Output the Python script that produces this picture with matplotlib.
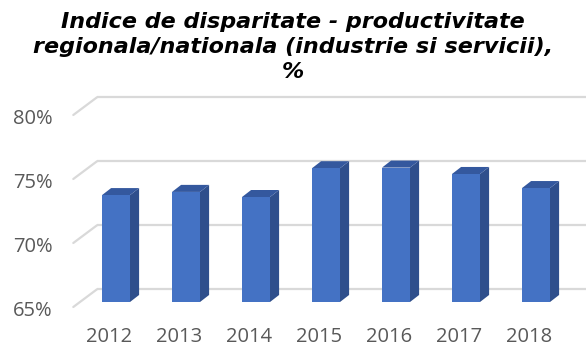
#Indice de disparitate - productivitate regionala/nationala, bar chart with 3D look

import matplotlib
matplotlib.use("Agg")
import matplotlib.pyplot as plt
from matplotlib.patches import Polygon

#data
years = ["2012", "2013", "2014", "2015", "2016", "2017", "2018"]
values = [73.35, 73.6, 73.2, 75.45, 75.5, 75.0, 73.9]
ticks = [65, 70, 75, 80]
tick_labels = ["65%", "70%", "75%", "80%"]

#colours
front_col = "#4472C4"
side_col = "#2F4F8C"
top_col = "#34589E"
grid_col = "#D9D9D9"
text_col = "#595959"

#depth offsets (x in categories, y in percent)
bar_dx, bar_dy = 0.13, 0.55
wall_x, wall_dy = -0.27, 1.0
floor_x, floor_dy = -0.61, -0.39
half_w = 0.2
base = 65

fig = plt.figure(figsize=(5.86, 3.47), dpi=100)
ax = fig.add_axes([0, 0, 1, 1])
ax.set_xlim(-116/70, 470/70)
ax.set_ylim(65 - 45/12.8, 65 + 302/12.8)
ax.axis("off")

#back wall gridlines + diagonal on the side wall
for t, lab in zip(ticks, tick_labels):
    ax.plot([wall_x, 10], [t + wall_dy, t + wall_dy], color=grid_col, lw=1.6,
            solid_capstyle="butt", zorder=1)
    ax.plot([floor_x, wall_x], [t + floor_dy, t + wall_dy], color=grid_col, lw=1.6,
            solid_capstyle="round", zorder=1)
    ax.text(-0.91, t - 0.72, lab, ha="right", va="center", fontsize=14.5,
            color=text_col, family="Open Sans")

#bars
for i, v in enumerate(values):
    x0, x1 = i - half_w, i + half_w
    front = [(x0, base), (x1, base), (x1, v), (x0, v)]
    side = [(x1, base), (x1 + bar_dx, base + bar_dy), (x1 + bar_dx, v + bar_dy), (x1, v)]
    top = [(x0, v), (x1, v), (x1 + bar_dx, v + bar_dy), (x0 + bar_dx, v + bar_dy)]
    ax.add_patch(Polygon(side, closed=True, facecolor=side_col, edgecolor="none", zorder=3))
    ax.add_patch(Polygon(top, closed=True, facecolor=top_col, edgecolor="none", zorder=3))
    ax.add_patch(Polygon(front, closed=True, facecolor=front_col, edgecolor="none", zorder=4))
    ax.text(i - 0.1, 62.3, years[i], ha="center", va="center", fontsize=14.5,
            color=text_col, family="Open Sans")

#title
fig.text(0.5, 0.865, "Indice de disparitate - productivitate\nregionala/nationala (industrie si servicii),\n%",
         ha="center", va="center", fontsize=16, fontweight="bold", fontstyle="italic",
         linespacing=1.3, color="black")

plt.savefig("out.png", dpi=100)
